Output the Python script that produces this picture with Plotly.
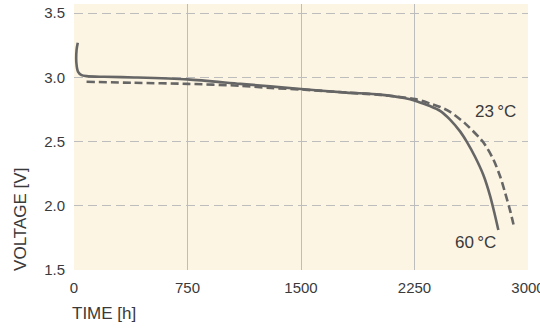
import plotly.graph_objects as go

# 60°C discharge curve (solid)
t60 = [25, 17, 16, 27, 50, 83, 200, 400, 750, 1100, 1500, 1800, 2023, 2221, 2287, 2353,
       2419, 2485, 2551, 2595, 2650, 2705, 2749, 2782, 2804]
v60 = [3.27, 3.215, 3.11, 3.044, 3.018, 3.01, 3.005, 3.0, 2.985, 2.95, 2.91, 2.882,
       2.866, 2.83, 2.805, 2.777, 2.740, 2.672, 2.580, 2.500, 2.382, 2.240, 2.080,
       1.925, 1.812]

# 23°C discharge curve (dashed)
t23 = [83, 400, 750, 1100, 1300, 1500, 1800, 2023, 2254, 2353, 2419, 2485, 2584,
       2683, 2716, 2771, 2815, 2848, 2881, 2910]
v23 = [2.966, 2.958, 2.950, 2.935, 2.918, 2.906, 2.882, 2.864, 2.831, 2.797, 2.770,
       2.732, 2.642, 2.525, 2.476, 2.362, 2.232, 2.105, 1.967, 1.825]

xticks = [0, 750, 1500, 2250, 3000]
yticks = [1.5, 2.0, 2.5, 3.0, 3.5]

line_col = '#666666'
text_col = '#3a3a3a'
grid_col = '#bdbdbd'

fig = go.Figure()
fig.add_trace(go.Scatter(x=t60, y=v60, mode='lines', name='60°C',
                         line=dict(color=line_col, width=2.6, shape='spline', smoothing=0.8)))
fig.add_trace(go.Scatter(x=t23, y=v23, mode='lines', name='23°C',
                         line=dict(color=line_col, width=2.6, dash='8px,4px',
                                   shape='spline', smoothing=0.8)))

fig.add_annotation(x=2782, y=2.732, text='23\u2009°C', showarrow=False,
                   xanchor='center', yanchor='middle', font=dict(size=17, color=text_col))
fig.add_annotation(x=2650, y=1.718, text='60\u2009°C', showarrow=False,
                   xanchor='center', yanchor='middle', font=dict(size=17, color=text_col))

fig.add_annotation(xref='paper', yref='paper', x=-0.118, y=0.19, text='VOLTAGE [V]',
                   textangle=-90, showarrow=False, xanchor='center', yanchor='middle',
                   font=dict(size=17, color=text_col))
fig.add_annotation(xref='paper', yref='paper', x=-0.008, y=-0.162, text='TIME [h]',
                   xanchor='left', yanchor='middle', showarrow=False,
                   font=dict(size=17, color=text_col))

fig.update_xaxes(range=[0, 3000], tickvals=xticks, ticktext=[str(v) for v in xticks],
                 showgrid=True, gridcolor=grid_col, gridwidth=1, zeroline=False,
                 showline=False, ticks='', ticklabelstandoff=7, ticklabeloverflow='allow',
                 automargin=False, tickfont=dict(size=15, color=text_col))
fig.update_yaxes(range=[1.5, 3.572], tickvals=yticks, tickformat='.1f',
                 showgrid=True, gridcolor=grid_col, gridwidth=1, griddash='9px,5px',
                 zeroline=False, showline=False, ticks='', ticklabelstandoff=8,
                 automargin=False, tickfont=dict(size=15, color=text_col))

fig.update_layout(width=540, height=328, margin=dict(l=74, r=12, t=4, b=58, autoexpand=False),
                  plot_bgcolor='#fdf5e3', paper_bgcolor='white',
                  showlegend=False, font=dict(family='Liberation Sans, Arial'))

fig.write_html("out.html", config={'displayModeBar': False},
               post_script="document.body.style.margin='0';")
